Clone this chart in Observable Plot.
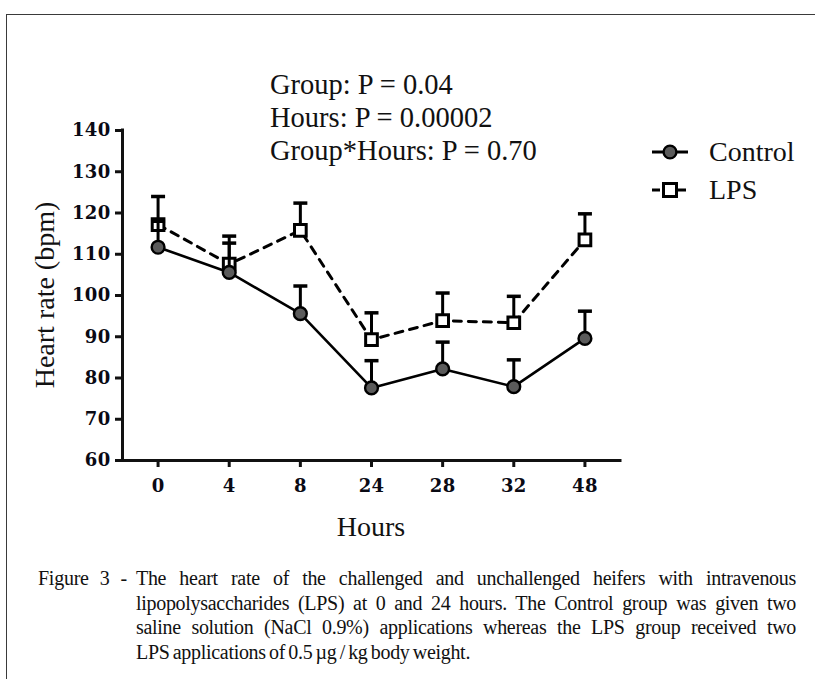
<!DOCTYPE html>
<html>
<head>
<meta charset="utf-8">
<script src="https://cdn.jsdelivr.net/npm/d3@7"></script>
<script src="https://cdn.jsdelivr.net/npm/@observablehq/plot@0.6"></script>
<style>
  html, body { margin: 0; padding: 0; background: #fff; }
  #wrap { position: relative; width: 815px; height: 679px; overflow: hidden; background: #fff; }
  #frame { position: absolute; left: 6px; top: 14px; width: 820px; height: 700px;
           border-top: 1.5px solid #3a3a3a; border-left: 1.5px solid #3a3a3a; }
  #chart { position: absolute; left: 0; top: 0; }
  #chart svg text { font-family: "DejaVu Serif", serif; font-weight: bold; font-size: 18px; letter-spacing: 0.3px; fill: #0a0a14; }
  .serif { font-family: "Liberation Serif", "Times New Roman", serif; color: #111; }
  #annot { position: absolute; left: 270px; top: 68px; font-size: 28.5px; line-height: 33px; white-space: nowrap; }
  .leg { position: absolute; left: 650px; height: 34px; display: flex; align-items: center; font-size: 28px; white-space: nowrap; }
  .leg svg { width: 50px; height: 24px; margin-right: 9px; }
  #xtitle { position: absolute; left: 271px; width: 200px; top: 511px; text-align: center; font-size: 28px; }
  #ytitle { position: absolute; left: 45px; top: 295px; font-size: 28px; white-space: nowrap;
            transform: translate(-50%, -50%) rotate(-90deg); }
  #capLead { position: absolute; left: 38px; top: 566px; width: 89px; font-size: 20px; line-height: 24.7px;
             text-align: justify; text-align-last: justify; letter-spacing: -0.25px; }
  #capBody { position: absolute; left: 136px; top: 566px; width: 660px; font-size: 20px; line-height: 24.7px;
             letter-spacing: -0.3px; word-spacing: -1.5px; }
  #capBody div { text-align: justify; text-align-last: justify; }
  #capBody div.last { text-align-last: left; }
</style>
</head>
<body>
<div id="wrap">
  <div id="frame"></div>
  <div id="chart"></div>
  <div id="annot" class="serif"></div>
  <div id="legend"></div>
  <div id="xtitle" class="serif"></div>
  <div id="ytitle" class="serif"></div>
  <div id="capLead" class="serif"></div>
  <div id="capBody" class="serif"></div>
</div>
<script>
// ---- data ----
const hours = ["0", "4", "8", "24", "28", "32", "48"];
const controlMean = [111.7, 105.6, 95.6, 77.6, 82.2, 77.9, 89.6];
const controlSE   = [6.3, 7.1, 6.7, 6.6, 6.5, 6.5, 6.6];
const lpsMean     = [117.2, 107.6, 115.8, 89.3, 93.9, 93.4, 113.5];
const lpsSE       = [6.8, 6.8, 6.6, 6.5, 6.7, 6.4, 6.3];
const yTicks = [60, 70, 80, 90, 100, 110, 120, 130, 140];
const seriesNames = ["Control", "LPS"];
const annotLines = ["Group: P = 0.04", "Hours: P = 0.00002", "Group*Hours: P = 0.70"];
const xTitle = "Hours";
const yTitle = "Heart rate (bpm)";
const captionLead = "Figure 3 -";
const captionLines = [
  "The heart rate of the challenged and unchallenged heifers with intravenous",
  "lipopolysaccharides (LPS) at 0 and 24 hours. The Control group was given two",
  "saline solution (NaCl 0.9%) applications whereas the LPS group received two",
  "LPS applications of 0.5 \u00b5g / kg body weight."
];

// ---- build tables ----
const idx = hours.map((_, i) => i);
const control = idx.map(i => ({i, v: controlMean[i], se: controlSE[i]}));
const lps = idx.map(i => ({i, v: lpsMean[i], se: lpsSE[i]}));

const capSymbol = {
  draw(context) { context.moveTo(-7, 0); context.lineTo(7, 0); }
};

const plot = Plot.plot({
  width: 815,
  height: 545,
  marginLeft: 122,
  marginRight: 195,
  marginTop: 130,
  marginBottom: 85,
  style: {background: "transparent", color: "#111"},
  x: {type: "linear", domain: [-0.5, 6.5], axis: null},
  y: {domain: [60, 140], axis: null},
  marks: [
    Plot.axisY({ticks: yTicks, tickSize: 7, tickPadding: 5, strokeWidth: 3, label: null}),
    Plot.axisX({ticks: idx, tickFormat: i => hours[i], tickSize: 7, tickPadding: 12, strokeWidth: 3, label: null}),
    Plot.ruleY([60], {strokeWidth: 3, strokeLinecap: "square"}),
    Plot.ruleX([-0.5], {strokeWidth: 3, strokeLinecap: "square"}),
    // LPS series
    Plot.ruleX(lps, {x: "i", y1: "v", y2: d => d.v + d.se, strokeWidth: 3, stroke: "#000"}),
    Plot.dot(lps, {x: "i", y: d => d.v + d.se, symbol: capSymbol, stroke: "#000", strokeWidth: 3.5, fill: "none"}),
    Plot.line(lps, {x: "i", y: "v", stroke: "#000", strokeWidth: 3, strokeDasharray: "8,7"}),
    Plot.dot(lps, {x: "i", y: "v", symbol: "square", r: 6.6, fill: "white", stroke: "#000", strokeWidth: 3}),
    // Control series
    Plot.ruleX(control, {x: "i", y1: "v", y2: d => d.v + d.se, strokeWidth: 3, stroke: "#000"}),
    Plot.dot(control, {x: "i", y: d => d.v + d.se, symbol: capSymbol, stroke: "#000", strokeWidth: 3.5, fill: "none"}),
    Plot.line(control, {x: "i", y: "v", stroke: "#000", strokeWidth: 2.6}),
    Plot.dot(control, {x: "i", y: "v", r: 6.4, fill: "#5b5b5b", stroke: "#000", strokeWidth: 2.4})
  ]
});
document.getElementById("chart").appendChild(plot);

// ---- texts ----
document.getElementById("annot").innerHTML = annotLines.map(t => `<div>${t}</div>`).join("");
document.getElementById("xtitle").textContent = xTitle;
document.getElementById("ytitle").textContent = yTitle;
document.getElementById("capLead").textContent = captionLead;
document.getElementById("capBody").innerHTML = captionLines
  .map((t, k) => `<div class="${k === captionLines.length - 1 ? "last" : ""}">${t}</div>`).join("");

// ---- legend ----
const swatches = [
  `<svg viewBox="0 0 50 24"><line x1="2" x2="38" y1="12" y2="12" stroke="#000" stroke-width="3"/><circle cx="20" cy="12" r="6.4" fill="#5b5b5b" stroke="#000" stroke-width="2.4"/></svg>`,
  `<svg viewBox="0 0 50 24"><line x1="2" x2="38" y1="12" y2="12" stroke="#000" stroke-width="3" stroke-dasharray="8,5"/><rect x="13.5" y="5.5" width="13" height="13" fill="#fff" stroke="#000" stroke-width="3"/></svg>`
];
const legendTops = [135, 173];
document.getElementById("legend").innerHTML = seriesNames
  .map((n, k) => `<div class="leg serif" style="top:${legendTops[k]}px">${swatches[k]}<span>${n}</span></div>`).join("");
</script>
</body>
</html>
